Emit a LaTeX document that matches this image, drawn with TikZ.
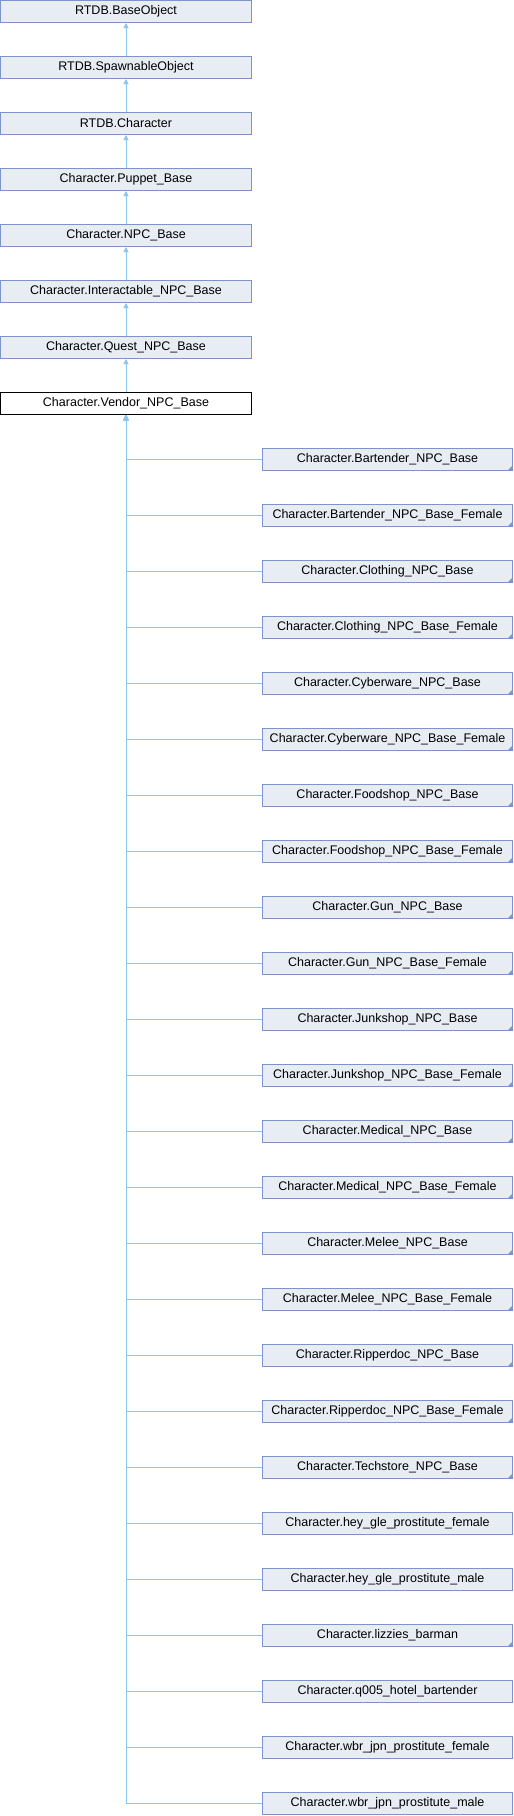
\documentclass[tikz,border=0pt]{standalone}
\usepackage{fontspec}
\setmainfont{Liberation Sans}
\usetikzlibrary{arrows.meta,positioning}
\definecolor{boxfill}{RGB}{232,236,245}
\definecolor{boxline}{RGB}{124,147,203}
\definecolor{edgeblue}{RGB}{140,198,236}
\tikzset{
cls/.style  = {draw=boxline, fill=boxfill, rectangle, line width=1pt, minimum height=22pt, inner sep=0pt, font=\fontsize{12.5}{15}\selectfont},
base/.style = {cls, minimum width=251pt},
sub/.style  = {cls, minimum width=250pt},
cur/.style  = {base, draw=black, fill=white},
more/.style = {path picture={\fill[boxline] (path picture bounding box.south east) -- ++(-5pt,0) -- ++(5pt,5pt) -- cycle;}},
inh/.style  = {draw=edgeblue, line width=1pt}
}
\begin{document}
\begin{tikzpicture}[x=1pt, y=1pt, node distance=56pt, >={Triangle[width=5pt,length=5pt]}]
  \useasboundingbox (0,0) rectangle (514,-1816);
  \node [base] at (126,-11.5)                 (baseobj)      {RTDB.BaseObject};
  \node [base, below of=baseobj]              (spawnable)    {RTDB.SpawnableObject};
  \node [base, below of=spawnable]            (character)    {RTDB.Character};
  \node [base, below of=character]            (puppet)       {Character.Puppet\_Base};
  \node [base, below of=puppet]               (npc)          {Character.NPC\_Base};
  \node [base, below of=npc]                  (interact)     {Character.Interactable\_NPC\_Base};
  \node [base, below of=interact]             (quest)        {Character.Quest\_NPC\_Base};
  \node [cur, below of=quest]                 (vendor)       {Character.Vendor\_NPC\_Base};

  \node [sub, more] at (387.5,-459.5)         (bartender)    {Character.Bartender\_NPC\_Base};
  \node [sub, more, below of=bartender]       (bartenderf)   {Character.Bartender\_NPC\_Base\_Female};
  \node [sub, more, below of=bartenderf]      (clothing)     {Character.Clothing\_NPC\_Base};
  \node [sub, more, below of=clothing]        (clothingf)    {Character.Clothing\_NPC\_Base\_Female};
  \node [sub, more, below of=clothingf]       (cyberware)    {Character.Cyberware\_NPC\_Base};
  \node [sub, more, below of=cyberware]       (cyberwaref)   {Character.Cyberware\_NPC\_Base\_Female};
  \node [sub, more, below of=cyberwaref]      (foodshop)     {Character.Foodshop\_NPC\_Base};
  \node [sub, more, below of=foodshop]        (foodshopf)    {Character.Foodshop\_NPC\_Base\_Female};
  \node [sub, more, below of=foodshopf]       (gun)          {Character.Gun\_NPC\_Base};
  \node [sub, more, below of=gun]             (gunf)         {Character.Gun\_NPC\_Base\_Female};
  \node [sub, more, below of=gunf]            (junkshop)     {Character.Junkshop\_NPC\_Base};
  \node [sub, more, below of=junkshop]        (junkshopf)    {Character.Junkshop\_NPC\_Base\_Female};
  \node [sub, more, below of=junkshopf]       (medical)      {Character.Medical\_NPC\_Base};
  \node [sub, more, below of=medical]         (medicalf)     {Character.Medical\_NPC\_Base\_Female};
  \node [sub, more, below of=medicalf]        (melee)        {Character.Melee\_NPC\_Base};
  \node [sub, more, below of=melee]           (meleef)       {Character.Melee\_NPC\_Base\_Female};
  \node [sub, more, below of=meleef]          (ripperdoc)    {Character.Ripperdoc\_NPC\_Base};
  \node [sub, more, below of=ripperdoc]       (ripperdocf)   {Character.Ripperdoc\_NPC\_Base\_Female};
  \node [sub, more, below of=ripperdocf]      (techstore)    {Character.Techstore\_NPC\_Base};
  \node [sub, below of=techstore]             (heyglef)      {Character.hey\_gle\_prostitute\_female};
  \node [sub, below of=heyglef]               (heyglem)      {Character.hey\_gle\_prostitute\_male};
  \node [sub, more, below of=heyglem]         (lizzies)      {Character.lizzies\_barman};
  \node [sub, below of=lizzies]               (hotel)        {Character.q005\_hotel\_bartender};
  \node [sub, below of=hotel]                 (wbrf)         {Character.wbr\_jpn\_prostitute\_female};
  \node [sub, below of=wbrf]                  (wbrm)         {Character.wbr\_jpn\_prostitute\_male};

  \draw [inh, ->] (spawnable) -- (baseobj);
  \draw [inh, ->] (character) -- (spawnable);
  \draw [inh, ->] (puppet) -- (character);
  \draw [inh, ->] (npc) -- (puppet);
  \draw [inh, ->] (interact) -- (npc);
  \draw [inh, ->] (quest) -- (interact);
  \draw [inh, ->] (vendor) -- (quest);

  \draw [inh, ->] (bartender.west) -| (vendor.south);
  \draw [inh, ->] (bartenderf.west) -| (vendor.south);
  \draw [inh, ->] (clothing.west) -| (vendor.south);
  \draw [inh, ->] (clothingf.west) -| (vendor.south);
  \draw [inh, ->] (cyberware.west) -| (vendor.south);
  \draw [inh, ->] (cyberwaref.west) -| (vendor.south);
  \draw [inh, ->] (foodshop.west) -| (vendor.south);
  \draw [inh, ->] (foodshopf.west) -| (vendor.south);
  \draw [inh, ->] (gun.west) -| (vendor.south);
  \draw [inh, ->] (gunf.west) -| (vendor.south);
  \draw [inh, ->] (junkshop.west) -| (vendor.south);
  \draw [inh, ->] (junkshopf.west) -| (vendor.south);
  \draw [inh, ->] (medical.west) -| (vendor.south);
  \draw [inh, ->] (medicalf.west) -| (vendor.south);
  \draw [inh, ->] (melee.west) -| (vendor.south);
  \draw [inh, ->] (meleef.west) -| (vendor.south);
  \draw [inh, ->] (ripperdoc.west) -| (vendor.south);
  \draw [inh, ->] (ripperdocf.west) -| (vendor.south);
  \draw [inh, ->] (techstore.west) -| (vendor.south);
  \draw [inh, ->] (heyglef.west) -| (vendor.south);
  \draw [inh, ->] (heyglem.west) -| (vendor.south);
  \draw [inh, ->] (lizzies.west) -| (vendor.south);
  \draw [inh, ->] (hotel.west) -| (vendor.south);
  \draw [inh, ->] (wbrf.west) -| (vendor.south);
  \draw [inh, ->] (wbrm.west) -| (vendor.south);
\end{tikzpicture}
\end{document}
